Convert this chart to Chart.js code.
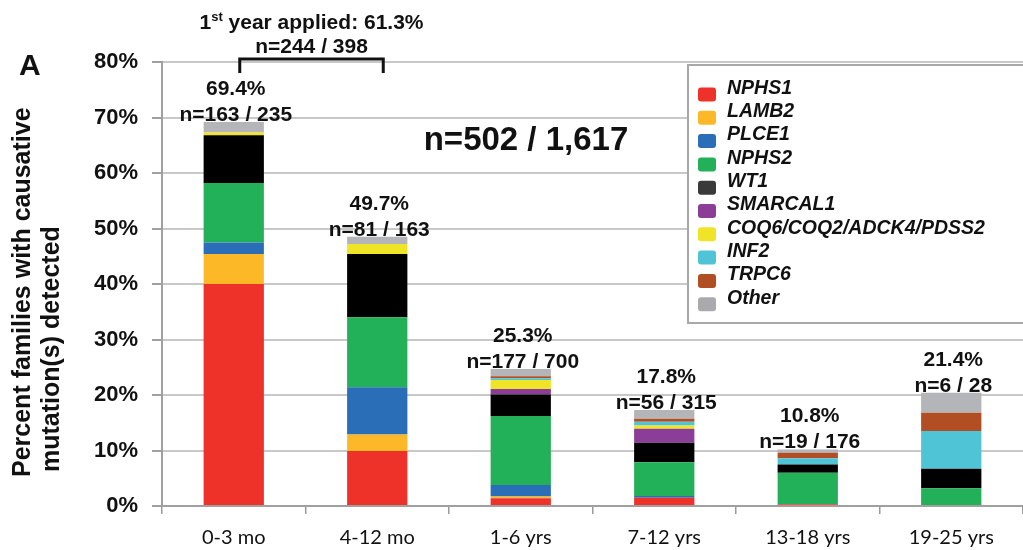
<!DOCTYPE html>
<html>
<head>
<meta charset="utf-8">
<script src="https://cdn.jsdelivr.net/npm/chart.js@4.4.0/dist/chart.umd.min.js"></script>
<style>
  html, body { margin: 0; padding: 0; background: #fff; }
  #wrap { width: 1023px; height: 550px; position: relative; }
</style>
</head>
<body>
<div id="wrap"><canvas id="c" width="1023" height="550"></canvas></div>
<script>
// ---- data ----
const categories = ['0-3 mo', '4-12 mo', '1-6 yrs', '7-12 yrs', '13-18 yrs', '19-25 yrs'];
const seriesNames = ['NPHS1', 'LAMB2', 'PLCE1', 'NPHS2', 'WT1', 'SMARCAL1', 'COQ6/COQ2/ADCK4/PDSS2', 'INF2', 'TRPC6', 'Other'];
const NPHS1    = [40.0, 9.9, 1.4, 1.5, 0.3, 0];
const LAMB2    = [5.4, 3.0, 0.3, 0, 0, 0];
const PLCE1    = [2.1, 8.5, 2.1, 0.3, 0, 0];
const NPHS2    = [10.7, 12.6, 12.4, 6.1, 5.7, 3.2];
const WT1      = [8.6, 11.4, 3.9, 3.5, 1.5, 3.5];
const SMARCAL1 = [0, 0, 1.0, 2.5, 0, 0];
const COQ      = [0.5, 1.8, 1.6, 0.6, 0, 0];
const INF2     = [0, 0, 0.3, 0.7, 1.1, 6.8];
const TRPC6    = [0, 0, 0.4, 0.5, 1.0, 3.3];
const Other    = [1.9, 1.3, 1.3, 1.6, 0.6, 3.6];
const pctLabels = ['69.4%', '49.7%', '25.3%', '17.8%', '10.8%', '21.4%'];
const nLabels   = ['n=163 / 235', 'n=81 / 163', 'n=177 / 700', 'n=56 / 315', 'n=19 / 176', 'n=6 / 28'];
const yTicks = [0, 10, 20, 30, 40, 50, 60, 70, 80];
const overallLabel = 'n=502 / 1,617';
const firstYearPct = '61.3%';
const firstYearN = 'n=244 / 398';

const seriesValues = [NPHS1, LAMB2, PLCE1, NPHS2, WT1, SMARCAL1, COQ, INF2, TRPC6, Other];
const colors = ['#EE3129', '#FDB827', '#2A6EB7', '#22B159', '#000000', '#8A3E97', '#EFE426', '#4FC4D7', '#B14E24', '#B4B5B8'];
const legendColors = ['#EE3129', '#FDB827', '#2A6EB7', '#22B159', '#3A3A3A', '#8A3E97', '#EFE426', '#4FC4D7', '#B14E24', '#A9AAAD'];

const FONT = "'Liberation Sans', Arial, sans-serif";

const datasets = seriesNames.map((n, i) => ({
  label: n,
  data: seriesValues[i],
  backgroundColor: colors[i],
  borderWidth: 0,
  categoryPercentage: 1.0,
  barPercentage: 0.42
}));

const overlay = {
  id: 'overlay',
  afterDraw(chart) {
    const { ctx, chartArea: ca, scales: { x, y } } = chart;
    ctx.save();
    ctx.fillStyle = '#111';
    // bar totals
    categories.forEach((c, i) => {
      let total = 0;
      seriesValues.forEach(s => total += s[i]);
      const top = y.getPixelForValue(total);
      const cx = x.getPixelForValue(i);
      ctx.font = 'bold 21px ' + FONT;
      ctx.textAlign = 'center';
      ctx.textBaseline = 'alphabetic';
      ctx.fillText(nLabels[i], cx + 2, top - 1);
      ctx.fillText(pctLabels[i], cx + 2, top - 27);
    });

    // panel letter
    ctx.textAlign = 'left';
    ctx.font = 'bold 30px ' + FONT;
    ctx.fillText('A', 19, 75);

    // overall n
    ctx.textAlign = 'center';
    ctx.font = 'bold 33px ' + FONT;
    ctx.fillText(overallLabel, 526, 150);

    // first-year bracket
    const bx1 = x.getPixelForValue(0) + 6;
    const bx2 = x.getPixelForValue(1) + 6;
    const byTop = ca.top - 3;
    ctx.strokeStyle = '#111';
    ctx.lineWidth = 3;
    ctx.beginPath();
    ctx.moveTo(bx1, byTop + 14);
    ctx.lineTo(bx1, byTop);
    ctx.lineTo(bx2, byTop);
    ctx.lineTo(bx2, byTop + 14);
    ctx.stroke();
    const bcx = (bx1 + bx2) / 2;
    // "1st year applied: 61.3%"
    ctx.font = 'bold 21px ' + FONT;
    const p1 = '1', p3 = ' year applied: ' + firstYearPct;
    const w1 = ctx.measureText(p1).width, w3 = ctx.measureText(p3).width;
    ctx.font = 'bold 13px ' + FONT;
    const w2 = ctx.measureText('st').width;
    let sx = bcx - (w1 + w2 + w3) / 2;
    ctx.textAlign = 'left';
    ctx.font = 'bold 21px ' + FONT;
    ctx.fillText(p1, sx, 29);
    ctx.font = 'bold 13px ' + FONT;
    ctx.fillText('st', sx + w1, 21);
    ctx.font = 'bold 21px ' + FONT;
    ctx.fillText(p3, sx + w1 + w2, 29);
    ctx.textAlign = 'center';
    ctx.fillText(firstYearN, bcx, 53);

    // y-axis title (two lines, rotated)
    ctx.save();
    ctx.translate(0, 0);
    ctx.font = 'bold 25px ' + FONT;
    ctx.textAlign = 'left';
    ctx.textBaseline = 'alphabetic';
    ctx.save();
    ctx.translate(30, 477);
    ctx.rotate(-Math.PI / 2);
    ctx.fillText('Percent families with causative', 0, 0);
    ctx.restore();
    ctx.save();
    ctx.translate(59, 472);
    ctx.rotate(-Math.PI / 2);
    ctx.fillText('mutation(s) detected', 0, 0);
    ctx.restore();
    ctx.restore();

    // legend box
    ctx.fillStyle = '#fff';
    ctx.fillRect(688, 65, 340, 258);
    ctx.strokeStyle = '#A8A8A8';
    ctx.lineWidth = 2;
    ctx.strokeRect(688, 65, 345, 258);
    seriesNames.forEach((n, i) => {
      const cy = 88.5 + i * 23.3;
      ctx.fillStyle = legendColors[i];
      ctx.beginPath();
      if (ctx.roundRect) ctx.roundRect(698, cy - 1, 18, 14, 3); else ctx.rect(698, cy - 1, 18, 14);
      ctx.fill();
      ctx.fillStyle = '#111';
      ctx.font = 'italic bold 19.5px ' + FONT;
      ctx.textAlign = 'left';
      ctx.textBaseline = 'middle';
      ctx.fillText(n, 727, cy);
    });
    ctx.restore();
  }
};

new Chart(document.getElementById('c'), {
  type: 'bar',
  data: { labels: categories, datasets },
  options: {
    responsive: false,
    animation: false,
    devicePixelRatio: 1,
    layout: { padding: { top: 62, right: 0, left: 0, bottom: 0 } },
    plugins: { legend: { display: false }, tooltip: { enabled: false } },
    scales: {
      x: {
        stacked: true,
        afterFit(s) { s.height = 44; },
        grid: { display: true, drawOnChartArea: false, drawTicks: true, tickLength: 8, color: '#9A9A9A', lineWidth: 1.5, offset: true },
        border: { display: true, color: '#A0A0A0', width: 2 },
        ticks: { color: '#111', padding: 12, font: { family: "Lato, 'Open Sans', sans-serif", size: 20 } }
      },
      y: {
        stacked: true,
        min: 0,
        max: 80,
        afterFit(s) { s.width = 162; },
        afterBuildTicks(s) { s.ticks = yTicks.map(v => ({ value: v })); },
        grid: { color: '#C8C8C8', lineWidth: 2, tickLength: 10, drawTicks: true, tickColor: '#A0A0A0' },
        border: { display: true, color: '#A0A0A0', width: 2 },
        ticks: { color: '#111', padding: 14, font: { family: FONT, size: 22, weight: 'bold' }, callback: v => v + '%' }
      }
    }
  },
  plugins: [overlay]
});
</script>
</body>
</html>
